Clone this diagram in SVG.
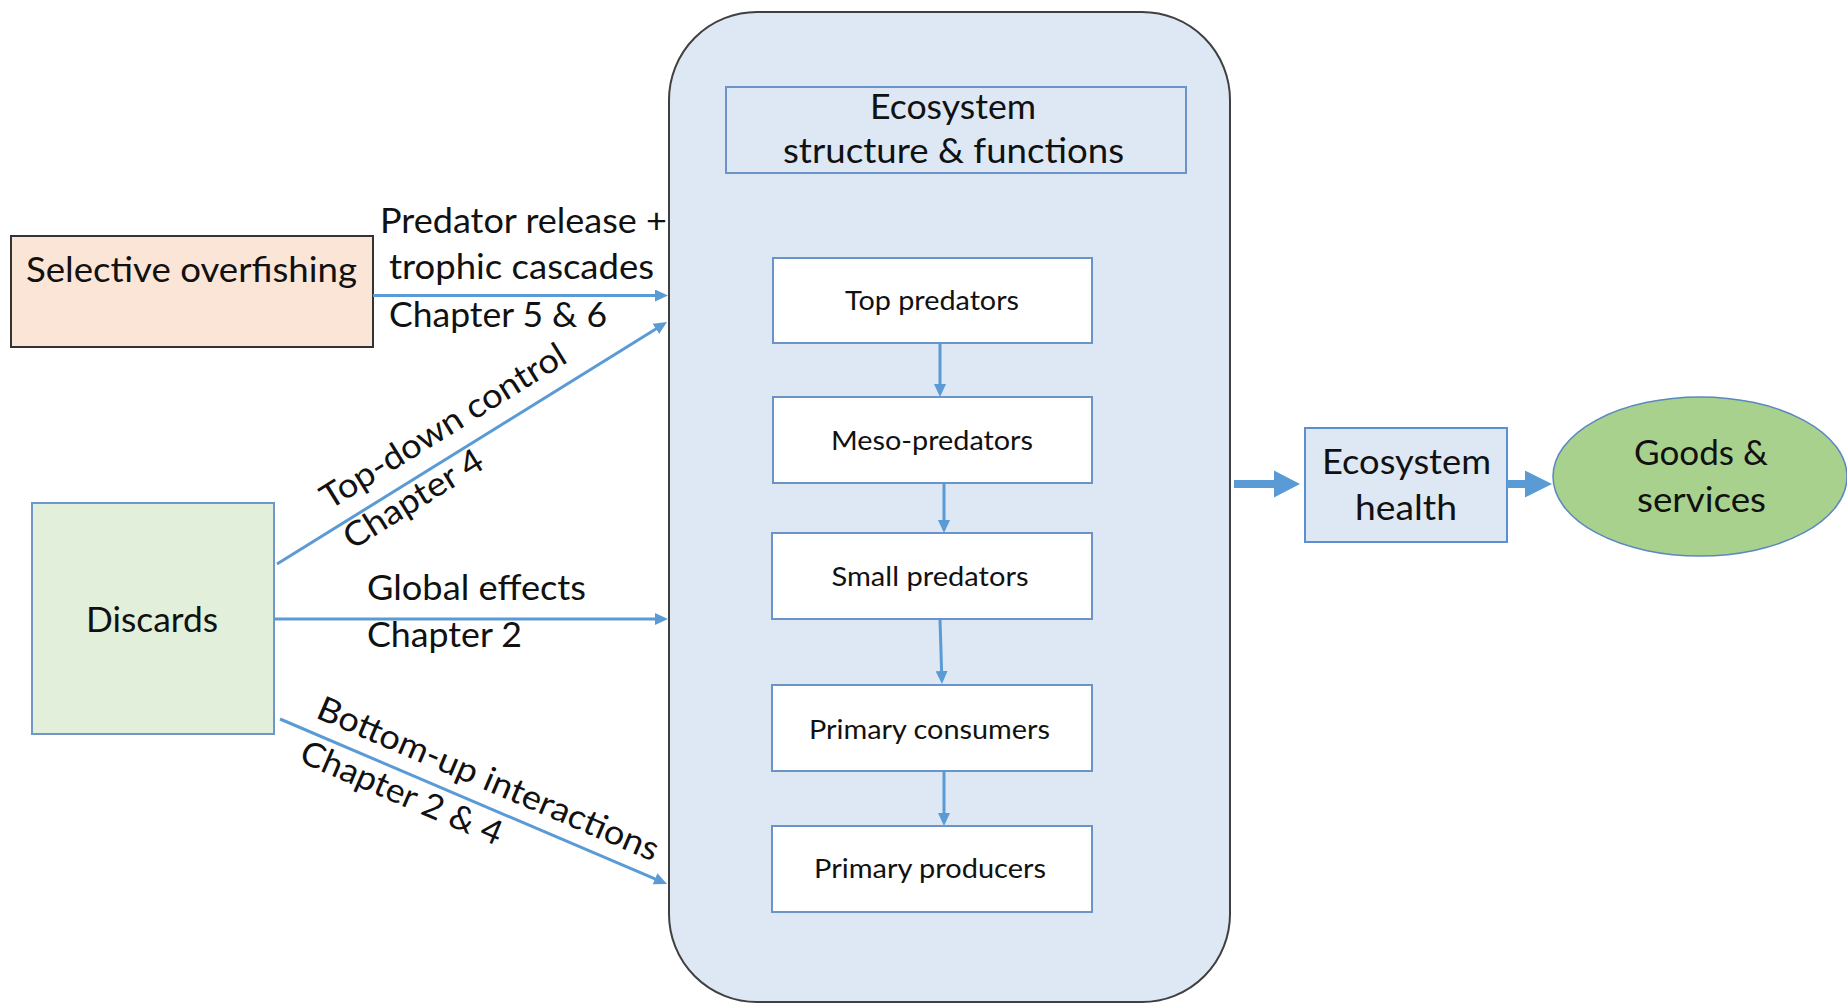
<svg xmlns="http://www.w3.org/2000/svg" width="1847" height="1003" viewBox="0 0 1847 1003">
<defs>
<style>
.t{font-family:Lato,"Liberation Sans",sans-serif;fill:#111;}
.big{font-size:34px;}
.sm{font-size:27.5px;}
.mid{text-anchor:middle;}
.inner{fill:#ffffff;stroke:#6a93c8;stroke-width:2;}
.conn{stroke:#5b9bd5;stroke-width:3;fill:none;marker-end:url(#ah);}
.block{fill:#5b9bd5;stroke:none;}
</style>
<marker id="ah" viewBox="0 0 13 12" markerWidth="13" markerHeight="12" refX="7" refY="6" orient="auto" markerUnits="userSpaceOnUse">
<path d="M0,0 L13,6 L0,12 z" fill="#5b9bd5"/>
</marker>
</defs>
<rect width="1847" height="1003" fill="#ffffff"/>

<g id="ecosystem-container">
<rect x="669" y="12" width="561" height="990" rx="88" ry="88" fill="#dde8f4" stroke="#404040" stroke-width="2"/>
</g>

<g id="eco-structure">
<rect x="726" y="87" width="460" height="86" fill="#dde8f4" stroke="#6a93c8" stroke-width="2"/>
<text class="t big mid" x="953" y="119" textLength="166" lengthAdjust="spacingAndGlyphs">Ecosystem</text>
<text class="t big mid" x="953.5" y="163" textLength="341" lengthAdjust="spacingAndGlyphs">structure &amp; functions</text>
</g>

<g id="top-predators">
<rect class="inner" x="773" y="258" width="319" height="85"/>
<text class="t sm mid" x="932" y="310" textLength="174" lengthAdjust="spacingAndGlyphs">Top predators</text>
</g>
<g id="meso-predators">
<rect class="inner" x="773" y="397" width="319" height="86"/>
<text class="t sm mid" x="932" y="450" textLength="202" lengthAdjust="spacingAndGlyphs">Meso-predators</text>
</g>
<g id="small-predators">
<rect class="inner" x="772" y="533" width="320" height="86"/>
<text class="t sm mid" x="930" y="586" textLength="197" lengthAdjust="spacingAndGlyphs">Small predators</text>
</g>
<g id="primary-consumers">
<rect class="inner" x="772" y="685" width="320" height="86"/>
<text class="t sm mid" x="929.5" y="739" textLength="241" lengthAdjust="spacingAndGlyphs">Primary consumers</text>
</g>
<g id="primary-producers">
<rect class="inner" x="772" y="826" width="320" height="86"/>
<text class="t sm mid" x="930" y="878" textLength="232" lengthAdjust="spacingAndGlyphs">Primary producers</text>
</g>

<g id="selective-overfishing">
<rect x="11" y="236" width="362" height="111" fill="#fbe5d6" stroke="#333333" stroke-width="2"/>
<text class="t big mid" x="191.5" y="282" textLength="331" lengthAdjust="spacingAndGlyphs">Selective overfishing</text>
</g>

<g id="discards">
<rect x="32" y="503" width="242" height="231" fill="#e2efda" stroke="#6f97c9" stroke-width="2"/>
<text class="t big mid" x="152" y="632" textLength="132" lengthAdjust="spacingAndGlyphs">Discards</text>
</g>

<g id="ecosystem-health">
<rect x="1305" y="428" width="202" height="114" fill="#dde8f4" stroke="#5b8fd0" stroke-width="2"/>
<text class="t big mid" x="1406.5" y="474" textLength="169" lengthAdjust="spacingAndGlyphs">Ecosystem</text>
<text class="t big mid" x="1406" y="520" textLength="102" lengthAdjust="spacingAndGlyphs">health</text>
</g>

<g id="goods-services">
<ellipse cx="1700" cy="476.5" rx="147" ry="79.5" fill="#a9d18e" stroke="#5b87c0" stroke-width="1.5"/>
<text class="t big mid" x="1701" y="465" textLength="134" lengthAdjust="spacingAndGlyphs">Goods &amp;</text>
<text class="t big mid" x="1701.5" y="512" textLength="129" lengthAdjust="spacingAndGlyphs">services</text>
</g>

<g id="connectors">
<line class="conn" x1="373" y1="295.5" x2="662" y2="295.5"/>
<line class="conn" x1="277" y1="564" x2="661.9" y2="325.2"/>
<line class="conn" x1="274" y1="619" x2="662" y2="619"/>
<line class="conn" x1="280" y1="719" x2="661.5" y2="881.6"/>
<line class="conn" x1="940" y1="343" x2="940" y2="391"/>
<line class="conn" x1="944" y1="483" x2="944" y2="527"/>
<line class="conn" x1="940" y1="619" x2="941.8" y2="678"/>
<line class="conn" x1="944" y1="771" x2="944" y2="820"/>
<polygon class="block" points="1234,480 1274,480 1274,470.5 1300,484 1274,497.5 1274,488 1234,488"/>
<polygon class="block" points="1507,480 1525,480 1525,470.5 1552,484 1525,497.5 1525,488 1507,488"/>
</g>

<g id="edge-labels">
<text class="t big" x="380" y="233" textLength="287" lengthAdjust="spacingAndGlyphs">Predator release +</text>
<text class="t big" x="389" y="279" textLength="265" lengthAdjust="spacingAndGlyphs">trophic cascades</text>
<text class="t big" x="389" y="327" textLength="218" lengthAdjust="spacingAndGlyphs">Chapter 5 &amp; 6</text>
<text class="t big mid" transform="translate(449.3,435.9) rotate(-31.8)" textLength="282" lengthAdjust="spacingAndGlyphs">Top-down control</text>
<text class="t big mid" transform="translate(419.3,508.7) rotate(-31.8)" textLength="158" lengthAdjust="spacingAndGlyphs">Chapter 4</text>
<text class="t big" x="367" y="600" textLength="219" lengthAdjust="spacingAndGlyphs">Global effects</text>
<text class="t big" x="367" y="647" textLength="155" lengthAdjust="spacingAndGlyphs">Chapter 2</text>
<text class="t big mid" transform="translate(483.7,789.5) rotate(23.1)" textLength="368" lengthAdjust="spacingAndGlyphs">Bottom-up interactions</text>
<text class="t big mid" transform="translate(397.1,803.7) rotate(23.1)" textLength="216" lengthAdjust="spacingAndGlyphs">Chapter 2 &amp; 4</text>
</g>
</svg>
